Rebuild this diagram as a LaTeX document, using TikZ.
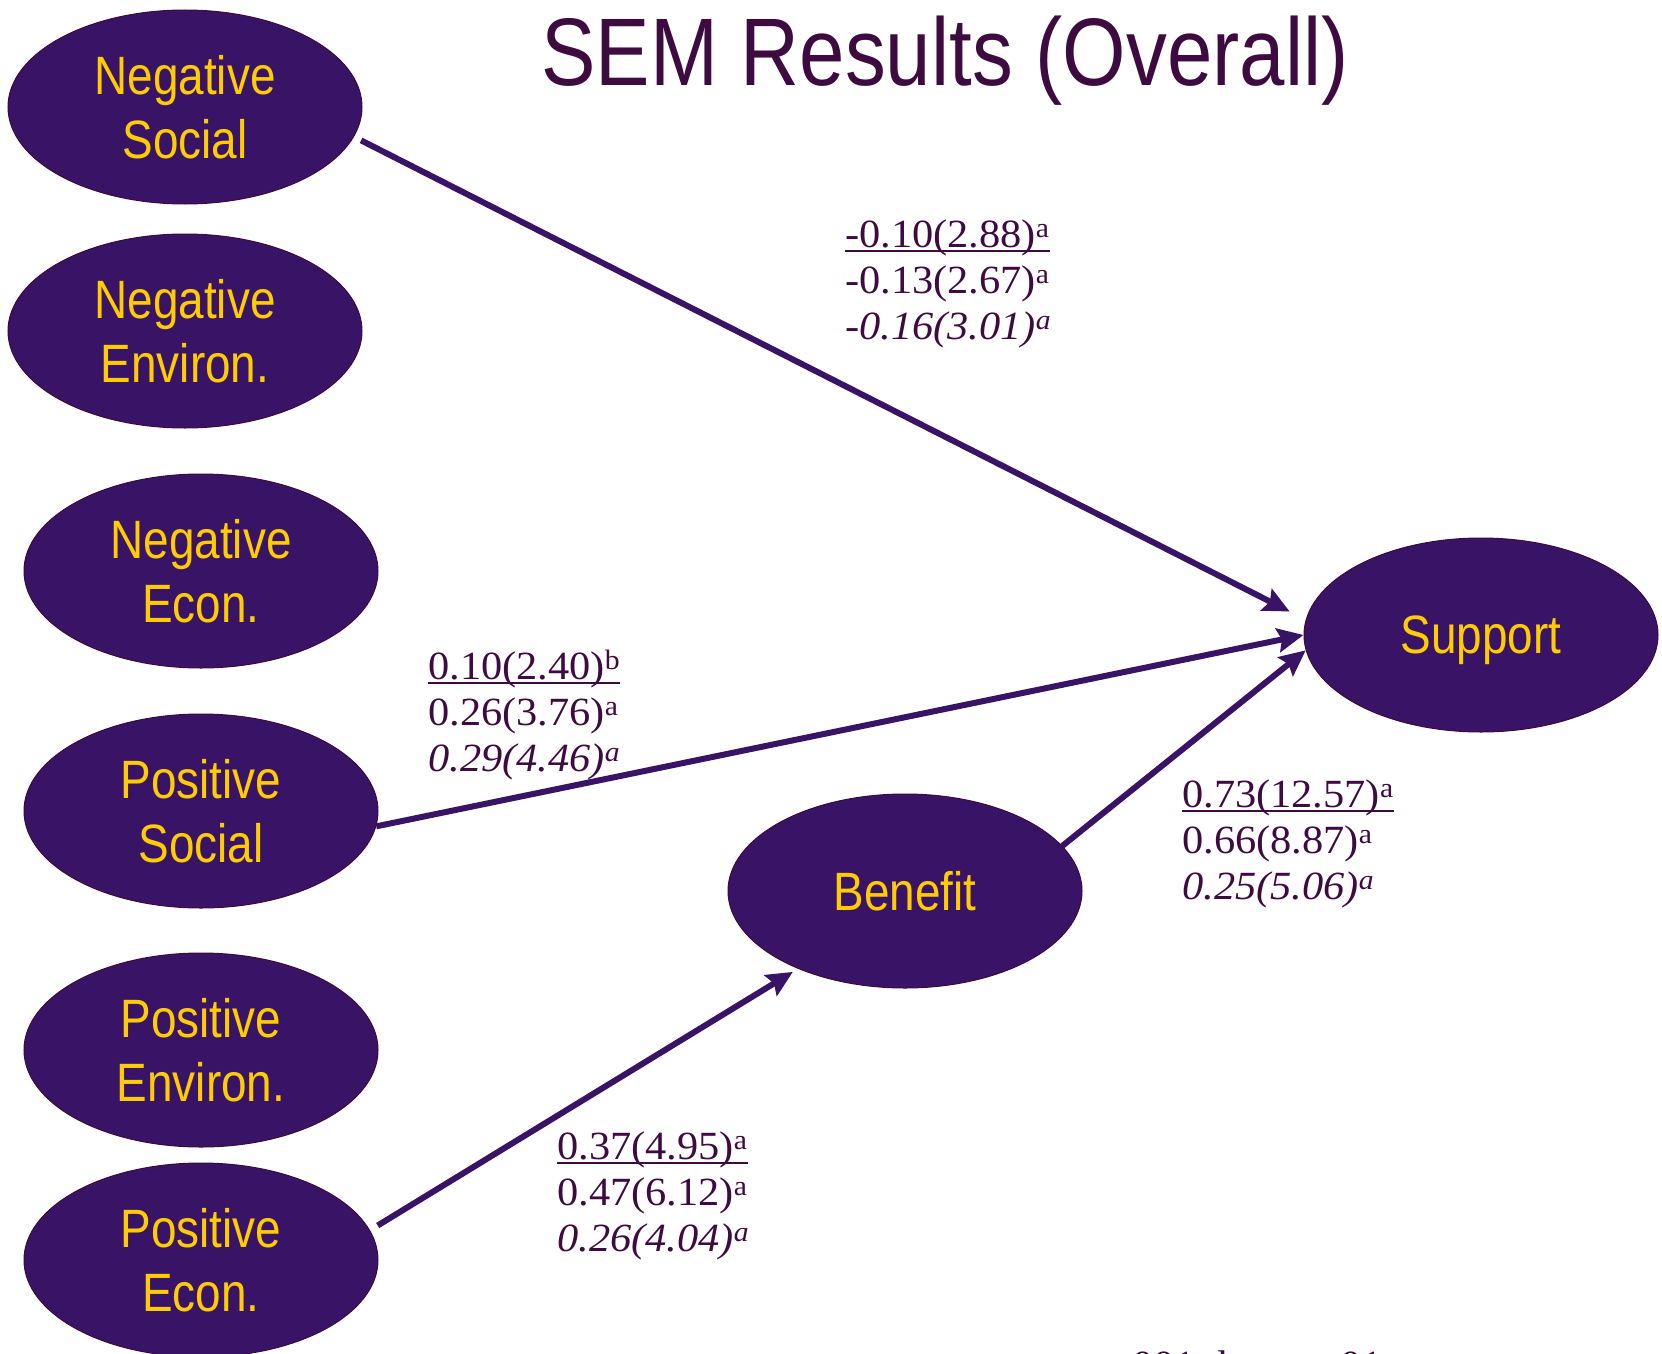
\documentclass[tikz,border=0pt]{standalone}
\usepackage{fontspec}
\setmainfont[FakeStretch=1.06]{Liberation Serif}
\newfontfamily\narrowsans[FakeStretch=0.85]{Liberation Sans}
\usetikzlibrary{shapes.geometric,arrows.meta}

\definecolor{ovalfill}{HTML}{391466}
\definecolor{ovaledge}{HTML}{3C0A3C}
\definecolor{ovaltext}{HTML}{FFCC00}
\definecolor{plum}{HTML}{3E0B40}
\definecolor{arrowcol}{HTML}{391466}

% underline drawn close to the baseline
\newcommand\ulbar[1]{\setbox0\hbox{#1}\rlap{\rule[-5pt]{\wd0}{2pt}}\box0}

\pgfdeclarelayer{background}
\pgfsetlayers{background,main}

\tikzset{
  oval/.style={ellipse, draw=ovaledge, line width=1pt, fill=ovalfill,
    minimum width=354pt, minimum height=194pt, inner sep=0pt,
    text=ovaltext, align=center,
    font=\narrowsans\fontsize{54}{64}\selectfont},
  path/.style={draw=arrowcol, line width=6pt,
    -{Stealth[length=26pt,width=24pt,inset=4pt]}},
  % base anchor of a multi-line node sits on its last line
  coef/.style={anchor=base west, inner sep=0pt, align=left, text=plum,
    font=\fontsize{40}{46}\selectfont},
  heading/.style={anchor=base, inner sep=0pt, text=plum,
    font=\narrowsans\fontsize{96}{110}\selectfont},
  note/.style={anchor=base west, inner sep=0pt, text=plum,
    font=\fontsize{40}{48}\selectfont}
}

\begin{document}
\begin{tikzpicture}[x=1pt,y=-1pt]
\useasboundingbox (0,0) rectangle (1662,1354);
\clip (0,0) rectangle (1662,1354);

\node[heading] (title) at (945,85) {SEM Results (Overall)};

% latent constructs
\node[oval] (negsoc) at (185,107)  {Negative\\Social};
\node[oval] (negenv) at (185,331)  {Negative\\Environ.};
\node[oval] (negeco) at (201,571)  {Negative\\Econ.};
\node[oval] (possoc) at (201,811)  {Positive\\Social};
\node[oval] (posenv) at (201,1050) {Positive\\Environ.};
\node[oval] (poseco) at (201,1260) {Positive\\Econ.};
\node[oval] (benefit) at (905,891) {Benefit};
\node[oval, text depth=0pt] (support) at (1481,635) {Support};

% structural paths
\begin{pgfonlayer}{background}
\draw[path, shorten <=8pt, shorten >=18pt] (negsoc.-10) -- (support.175);
\draw[path] (possoc.-5) -- (support.west);
\draw[path] (benefit.16) -- (support.185.5);
\draw[path, shorten <=9pt, shorten >=6pt] (poseco.10) -- (benefit.216);
\end{pgfonlayer}

% path coefficients
\node[coef] (c1) at (845,339)
  {\ulbar{-0.10(2.88)\textsuperscript{a}}\\-0.13(2.67)\textsuperscript{a}\\\textit{-0.16(3.01)\textsuperscript{a}}};
\node[coef] (c2) at (428,771)
  {\ulbar{0.10(2.40)\textsuperscript{b}}\\0.26(3.76)\textsuperscript{a}\\\textit{0.29(4.46)\textsuperscript{a}}};
\node[coef] (c3) at (1182,899)
  {\ulbar{0.73(12.57)\textsuperscript{a}}\\0.66(8.87)\textsuperscript{a}\\\textit{0.25(5.06)\textsuperscript{a}}};
\node[coef] (c4) at (557,1251)
  {\ulbar{0.37(4.95)\textsuperscript{a}}\\0.47(6.12)\textsuperscript{a}\\\textit{0.26(4.04)\textsuperscript{a}}};

\node[note] (sig) at (1026,1378)
  {a p < .001; b p <\hspace{24pt}.01};
\end{tikzpicture}
\end{document}
